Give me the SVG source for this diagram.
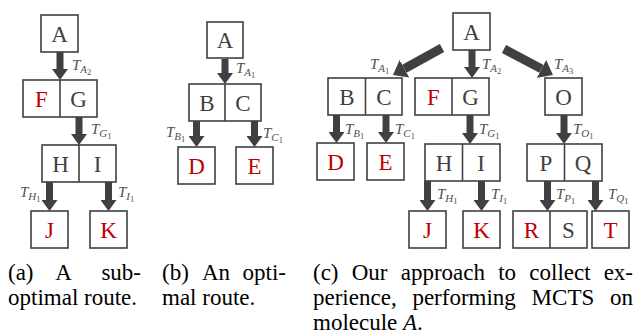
<svg xmlns="http://www.w3.org/2000/svg" width="642" height="335" viewBox="0 0 642 335">
<style>
.box{fill:#fff;stroke:#404040;stroke-width:1.6}
.div{stroke:#404040;stroke-width:1.6}
.m{font-family:"Liberation Serif",serif;font-size:23px;text-anchor:middle;fill:#404040}
.r{fill:#c00000}
.arr{stroke:#404040;stroke-width:7;fill:none;marker-end:url(#head)}
.darr{stroke:#404040;stroke-width:9;fill:none;marker-end:url(#dhead)}
.t{font-family:"Liberation Serif",serif;font-size:15px;font-style:italic;fill:#505050}
.s1{font-size:11px}
.s2{font-size:8.5px;font-style:normal}
.cap{font-family:"Liberation Serif",serif;font-size:23px;fill:#000}
</style>
<defs>
<marker id="head" markerUnits="userSpaceOnUse" viewBox="0 -8 11 16" markerWidth="11" markerHeight="16" refX="0" refY="0" orient="auto"><path d="M0,-8 L11,0 L0,8 Z" fill="#404040"/></marker>
<marker id="dhead" markerUnits="userSpaceOnUse" viewBox="0 -10 13 20" markerWidth="13" markerHeight="20" refX="0" refY="0" orient="auto"><path d="M0,-10 L13,0 L0,10 Z" fill="#404040"/></marker>
</defs>

<g id="connectors">
<line class="arr" x1="60" y1="52" x2="60" y2="69"/>
<line class="arr" x1="79" y1="117" x2="79" y2="134"/>
<line class="arr" x1="49.5" y1="182" x2="49.5" y2="200"/>
<line class="arr" x1="108.5" y1="182" x2="108.5" y2="200"/>
<line class="arr" x1="225" y1="59" x2="225" y2="73"/>
<line class="arr" x1="196.5" y1="121" x2="196.5" y2="136"/>
<line class="arr" x1="254.5" y1="121" x2="254.5" y2="136"/>
<line class="darr" x1="442" y1="48" x2="404.4" y2="68.7"/>
<line class="arr" x1="472" y1="50" x2="472" y2="67"/>
<line class="darr" x1="504" y1="49" x2="541.5" y2="68.9"/>
<line class="arr" x1="336.5" y1="115" x2="336.5" y2="132"/>
<line class="arr" x1="386" y1="115" x2="386" y2="132"/>
<line class="arr" x1="470" y1="115" x2="470" y2="133"/>
<line class="arr" x1="564" y1="115" x2="564" y2="133"/>
<line class="arr" x1="427.5" y1="181" x2="427.5" y2="200"/>
<line class="arr" x1="481.5" y1="181" x2="481.5" y2="200"/>
<line class="arr" x1="547.5" y1="181" x2="547.5" y2="200"/>
<line class="arr" x1="595.5" y1="181" x2="595.5" y2="200"/>
</g>

<g id="edge-labels">
<text class="t" x="72" y="70">T<tspan class="s1" dy="3">A</tspan><tspan class="s2" dy="2">2</tspan></text>
<text class="t" x="91" y="134">T<tspan class="s1" dy="3">G</tspan><tspan class="s2" dy="2">1</tspan></text>
<text class="t" x="20" y="197">T<tspan class="s1" dy="3">H</tspan><tspan class="s2" dy="2">1</tspan></text>
<text class="t" x="118" y="197">T<tspan class="s1" dy="3">I</tspan><tspan class="s2" dy="2">1</tspan></text>

<text class="t" x="236" y="73">T<tspan class="s1" dy="3">A</tspan><tspan class="s2" dy="2">1</tspan></text>
<text class="t" x="166" y="137">T<tspan class="s1" dy="3">B</tspan><tspan class="s2" dy="2">1</tspan></text>
<text class="t" x="263" y="138">T<tspan class="s1" dy="3">C</tspan><tspan class="s2" dy="2">1</tspan></text>

<text class="t" x="370" y="69">T<tspan class="s1" dy="3">A</tspan><tspan class="s2" dy="2">1</tspan></text>
<text class="t" x="482" y="69">T<tspan class="s1" dy="3">A</tspan><tspan class="s2" dy="2">2</tspan></text>
<text class="t" x="554" y="69">T<tspan class="s1" dy="3">A</tspan><tspan class="s2" dy="2">3</tspan></text>
<text class="t" x="345" y="134">T<tspan class="s1" dy="3">B</tspan><tspan class="s2" dy="2">1</tspan></text>
<text class="t" x="395" y="134">T<tspan class="s1" dy="3">C</tspan><tspan class="s2" dy="2">1</tspan></text>
<text class="t" x="479" y="134">T<tspan class="s1" dy="3">G</tspan><tspan class="s2" dy="2">1</tspan></text>
<text class="t" x="573" y="134">T<tspan class="s1" dy="3">O</tspan><tspan class="s2" dy="2">1</tspan></text>
<text class="t" x="437" y="199">T<tspan class="s1" dy="3">H</tspan><tspan class="s2" dy="2">1</tspan></text>
<text class="t" x="491" y="199">T<tspan class="s1" dy="3">I</tspan><tspan class="s2" dy="2">1</tspan></text>
<text class="t" x="556" y="199">T<tspan class="s1" dy="3">P</tspan><tspan class="s2" dy="2">1</tspan></text>
<text class="t" x="608" y="199">T<tspan class="s1" dy="3">Q</tspan><tspan class="s2" dy="2">1</tspan></text>
</g>

<g id="a-A"><rect class="box" x="41" y="15" width="37" height="37"/><text class="m" x="59.5" y="41.5">A</text></g>
<g id="a-FG"><rect class="box" x="23" y="80" width="74" height="37"/><line class="div" x1="60" y1="80" x2="60" y2="117"/><text class="m r" x="41.5" y="106.5">F</text><text class="m" x="78.5" y="106.5">G</text></g>
<g id="a-HI"><rect class="box" x="42" y="145" width="74" height="37"/><line class="div" x1="79" y1="145" x2="79" y2="182"/><text class="m" x="60.5" y="171.5">H</text><text class="m" x="97.5" y="171.5">I</text></g>
<g id="a-J"><rect class="box" x="31" y="211" width="37" height="37"/><text class="m r" x="49.5" y="237.5">J</text></g>
<g id="a-K"><rect class="box" x="90" y="211" width="37" height="37"/><text class="m r" x="108.5" y="237.5">K</text></g>

<g id="b-A"><rect class="box" x="207" y="22" width="36" height="36"/><text class="m" x="225" y="48">A</text></g>
<g id="b-BC"><rect class="box" x="189" y="84" width="72" height="37"/><line class="div" x1="225" y1="84" x2="225" y2="121"/><text class="m" x="207" y="110.5">B</text><text class="m" x="243" y="110.5">C</text></g>
<g id="b-D"><rect class="box" x="178" y="147" width="37" height="37"/><text class="m r" x="196.5" y="173.5">D</text></g>
<g id="b-E"><rect class="box" x="236" y="147" width="37" height="37"/><text class="m r" x="254.5" y="173.5">E</text></g>

<g id="c-A"><rect class="box" x="453" y="13" width="37" height="37"/><text class="m" x="471.5" y="39.5">A</text></g>
<g id="c-BC"><rect class="box" x="328" y="78" width="74" height="37"/><line class="div" x1="365.5" y1="78" x2="365.5" y2="115"/><text class="m" x="347" y="104.5">B</text><text class="m" x="384" y="104.5">C</text></g>
<g id="c-FG"><rect class="box" x="415" y="78" width="74" height="37"/><line class="div" x1="452" y1="78" x2="452" y2="115"/><text class="m r" x="433.5" y="104.5">F</text><text class="m" x="470.5" y="104.5">G</text></g>
<g id="c-O"><rect class="box" x="545" y="78" width="37" height="37"/><text class="m" x="563.5" y="104.5">O</text></g>
<g id="c-D"><rect class="box" x="317" y="143" width="37" height="37"/><text class="m r" x="335.5" y="169.5">D</text></g>
<g id="c-E"><rect class="box" x="367" y="143" width="37" height="37"/><text class="m r" x="385.5" y="169.5">E</text></g>
<g id="c-HI"><rect class="box" x="425" y="144" width="75" height="37"/><line class="div" x1="462.5" y1="144" x2="462.5" y2="181"/><text class="m" x="444" y="170.5">H</text><text class="m" x="481" y="170.5">I</text></g>
<g id="c-PQ"><rect class="box" x="527" y="144" width="75" height="37"/><line class="div" x1="564.5" y1="144" x2="564.5" y2="181"/><text class="m" x="546" y="170.5">P</text><text class="m" x="583" y="170.5">Q</text></g>
<g id="c-J"><rect class="box" x="409" y="211" width="37" height="37"/><text class="m r" x="427.5" y="237.5">J</text></g>
<g id="c-K"><rect class="box" x="463" y="211" width="37" height="37"/><text class="m r" x="481.5" y="237.5">K</text></g>
<g id="c-RS"><rect class="box" x="513" y="211" width="74" height="37"/><line class="div" x1="550" y1="211" x2="550" y2="248"/><text class="m r" x="531.5" y="237.5">R</text><text class="m" x="568.5" y="237.5">S</text></g>
<g id="c-T"><rect class="box" x="592" y="211" width="37" height="37"/><text class="m r" x="610.5" y="237.5">T</text></g>

<g id="captions" class="cap">
<text x="8" y="280">(a)</text>
<text x="63.5" y="280" text-anchor="middle">A</text>
<text x="141" y="280" text-anchor="end">sub-</text>
<text x="8" y="305">optimal route.</text>

<text x="162" y="280">(b)</text>
<text x="202" y="280">An</text>
<text x="286" y="280" text-anchor="end">opti-</text>
<text x="162" y="305">mal route.</text>

<text x="313" y="280">(c)</text>
<text x="351.7" y="280">Our</text>
<text x="400.7" y="280">approach</text>
<text x="498.2" y="280">to</text>
<text x="529.3" y="280">collect</text>
<text x="633" y="280" text-anchor="end">ex-</text>
<text x="313" y="305">perience,</text>
<text x="412.4" y="305">performing</text>
<text x="531.6" y="305">MCTS</text>
<text x="633" y="305" text-anchor="end">on</text>
<text x="313" y="330">molecule <tspan font-style="italic">A</tspan>.</text>
</g>
</svg>
